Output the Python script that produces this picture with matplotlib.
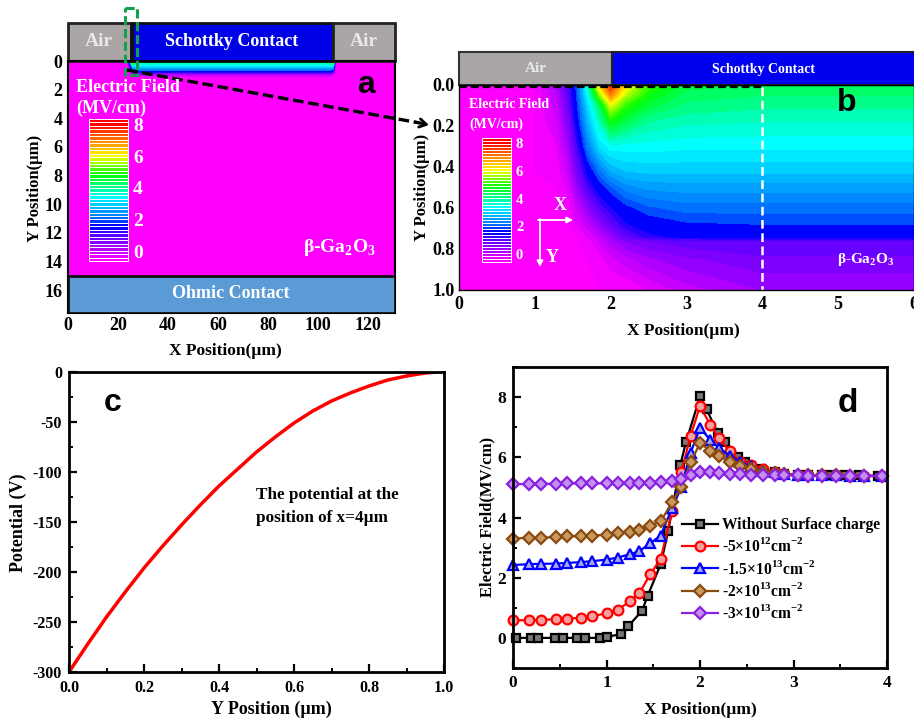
import numpy as np
import matplotlib
matplotlib.use("Agg")
import matplotlib.pyplot as plt
from matplotlib.colors import LinearSegmentedColormap
from matplotlib.patches import Rectangle
from matplotlib.ticker import MultipleLocator
from matplotlib.transforms import Affine2D

# panel b, field table
field_x = [0, 1.0, 1.3, 1.45, 1.55, 1.7, 1.85, 2.0, 2.2, 2.5, 3.0, 4.0, 6.0]
field_y = [0, 0.05, 0.1, 0.18, 0.3, 0.42, 0.5, 0.6, 0.68, 0.74, 0.76, 0.85, 1.0]
field_e = [
    [0, 0, 0.7, 1.5, 2.3, 4.0, 6.5, 7.8, 6.3, 5.3, 4.7, 4.6, 4.6],
    [0, 0, 0.6, 1.4, 2.2, 3.7, 5.5, 7.0, 5.8, 5.0, 4.5, 4.4, 4.4],
    [0, 0, 0.5, 1.3, 2.1, 3.4, 4.5, 6.0, 5.2, 4.7, 4.35, 4.25, 4.25],
    [0, 0, 0.4, 1.1, 1.9, 3.1, 4.0, 5.0, 4.6, 4.2, 4.05, 4.0, 4.0],
    [0, 0, 0.2, 0.8, 1.5, 2.6, 3.4, 3.7, 3.7, 3.7, 3.65, 3.65, 3.65],
    [0, 0, 0.1, 0.5, 1.1, 1.9, 2.5, 3.0, 3.2, 3.25, 3.25, 3.25, 3.25],
    [0, 0, 0, 0.3, 0.8, 1.5, 2.0, 2.35, 2.7, 2.85, 2.9, 2.9, 2.9],
    [0, 0, 0, 0.1, 0.4, 0.9, 1.4, 1.75, 2.1, 2.35, 2.5, 2.5, 2.5],
    [0, 0, 0, 0, 0.2, 0.5, 0.9, 1.3, 1.75, 2.0, 2.15, 2.2, 2.2],
    [0, 0, 0, 0, 0, 0.2, 0.5, 0.8, 1.3, 1.7, 1.9, 1.95, 1.95],
    [0, 0, 0, 0, 0, 0.1, 0.4, 0.7, 1.0, 1.2, 1.35, 1.4, 1.4],
    [0, 0, 0, 0, 0, 0, 0.1, 0.3, 0.5, 0.75, 0.95, 1.15, 1.15],
    [0, 0, 0, 0, 0, 0, 0, 0, 0, 0.2, 0.5, 0.8, 0.8],
]

# panel a, the thin band under the contact
wide_x = [0, 24, 25, 26, 27, 105, 106, 107, 130.8]
wide_y = [0, 0.2, 0.4, 0.6, 0.75, 0.85, 1.1, 17.6]
wide_e = [
    [0, 0, 3, 7, 4.6, 4.4, 7, 0, 0],
    [0, 0, 2.5, 4.5, 4, 4, 4.5, 0, 0],
    [0, 0, 1.5, 3.2, 3.3, 3.3, 3.2, 0, 0],
    [0, 0, 0.8, 2, 2.6, 2.6, 2, 0, 0],
    [0, 0, 0.3, 1.5, 1.9, 1.9, 1.5, 0, 0],
    [0, 0, 0, 0.6, 1.0, 1.0, 0.6, 0, 0],
    [0, 0, 0, 0, 0, 0, 0, 0, 0],
    [0, 0, 0, 0, 0, 0, 0, 0, 0],
]

# panel c
pot_y = [0, 0.05, 0.1, 0.15, 0.2, 0.25, 0.3, 0.35, 0.4, 0.45, 0.5, 0.55, 0.6,
         0.65, 0.7, 0.75, 0.8, 0.85, 0.9, 0.95, 0.98]
pot_v = [-300, -272, -245, -220, -196, -174, -153, -133, -114, -97, -80, -65,
         -51, -39, -29, -21, -14, -8, -4, -1, 0]

# panel d
x_black = [0.03, 0.19, 0.27, 0.45, 0.53, 0.68, 0.77, 0.93, 1.0, 1.16, 1.23, 1.38,
           1.44, 1.58, 1.66, 1.79, 1.85, 2.0, 2.07, 2.19, 2.27, 2.41, 2.48, 2.55,
           2.65, 2.8, 2.9, 3.05, 3.15, 3.3, 3.4, 3.55, 3.7, 3.9]
e_black = [0, 0, 0, 0, 0, 0, 0, 0, 0.03, 0.13, 0.38, 0.9, 1.4, 2.45, 3.55, 5.75,
           6.5, 8.02, 7.6, 6.8, 6.5, 6.0, 5.85, 5.7, 5.6, 5.5, 5.45, 5.42, 5.4,
           5.4, 5.4, 5.4, 5.4, 5.38]
x_common = [0, 0.17, 0.3, 0.46, 0.58, 0.73, 0.85, 1.0, 1.12, 1.25, 1.35, 1.47, 1.58,
            1.7, 1.8, 1.9, 2.0, 2.11, 2.2, 2.32, 2.43, 2.55, 2.67, 2.8, 2.9,
            3.05, 3.15, 3.3, 3.45, 3.6, 3.75, 3.95]
e_red = [0.58, 0.59, 0.6, 0.62, 0.64, 0.67, 0.72, 0.82, 0.92, 1.23, 1.48, 2.12, 2.63,
         4.2, 5.5, 6.72, 7.7, 7.08, 6.63, 6.2, 5.85, 5.75, 5.6, 5.52, 5.45,
         5.42, 5.4, 5.4, 5.4, 5.38, 5.38, 5.38]
e_blue = [2.42, 2.45, 2.46, 2.47, 2.49, 2.52, 2.55, 2.6, 2.67, 2.78, 2.88, 3.15, 3.4,
          4.3, 5.0, 6.15, 6.97, 6.58, 6.32, 6.05, 5.85, 5.7, 5.55, 5.5, 5.45,
          5.42, 5.4, 5.4, 5.4, 5.38, 5.38, 5.38]
e_brown = [3.3, 3.33, 3.33, 3.35, 3.37, 3.38, 3.4, 3.43, 3.47, 3.52, 3.58, 3.73, 3.87,
           4.5, 5.0, 5.83, 6.47, 6.22, 6.05, 5.85, 5.72, 5.6, 5.5, 5.47, 5.43,
           5.42, 5.4, 5.4, 5.4, 5.38, 5.38, 5.38]
e_purple = [5.1, 5.12, 5.12, 5.12, 5.13, 5.13, 5.13, 5.13, 5.14, 5.14, 5.14, 5.15, 5.17,
            5.2, 5.27, 5.42, 5.52, 5.5, 5.48, 5.45, 5.43, 5.42, 5.4, 5.4, 5.4,
            5.4, 5.38, 5.38, 5.38, 5.38, 5.38, 5.38]
labels_d = ["Without Surface charge",
            r"-5×10$^{\mathbf{12}}$cm$^{\mathbf{-2}}$",
            r"-1.5×10$^{\mathbf{13}}$cm$^{\mathbf{-2}}$",
            r"-2×10$^{\mathbf{13}}$cm$^{\mathbf{-2}}$",
            r"-3×10$^{\mathbf{13}}$cm$^{\mathbf{-2}}$"]

plt.rcParams["font.family"] = ["Liberation Serif", "DejaVu Serif"]
plt.rcParams["font.weight"] = "bold"
plt.rcParams["axes.labelweight"] = "bold"
plt.rcParams["mathtext.fontset"] = "custom"
plt.rcParams["mathtext.bf"] = "Liberation Serif:bold"
plt.rcParams["mathtext.rm"] = "Liberation Serif:bold"

W, H = 914, 722
fig = plt.figure(figsize=(W / 100, H / 100), dpi=100)
px = Affine2D().scale(1 / W, -1 / H).translate(0, 1) + fig.transFigure


def add_axes(left, top, right, bottom):
    return fig.add_axes([left / W, 1 - bottom / H, (right - left) / W, (bottom - top) / H])


field_cmap = LinearSegmentedColormap.from_list("field", [
    (0, (1, 0, 1)), (1.6 / 8, (60 / 255, 0, 1)), (1.8 / 8, (0, 0, 1)), (2.1 / 8, (0, 0, 1)),
    (2.25 / 8, (0, 90 / 255, 1)), (3.6 / 8, (0, 1, 1)),
    (4.9 / 8, (0, 1, 0)), (6.0 / 8, (1, 1, 0)), (7.8 / 8, (1, 0, 0)), (1, (1, 0, 0))])
levels = np.arange(0, 8.21, 0.2)


def colorbar(left, top, right, bottom, lab_x, lab_size):
    cax = add_axes(left, top, right, bottom)
    cax.set_xlim(0, 1)
    cax.set_ylim(0, 41)
    cax.axis("off")
    stripes = np.arange(41)
    cax.barh(stripes + 0.5, 1, height=1, color=field_cmap(stripes / 40),
             edgecolor="white", linewidth=0.7, clip_on=False)
    inset = (bottom - top) * 0.05
    for v in [0, 2, 4, 6, 8]:
        yy = bottom - inset - v * (bottom - top - 2 * inset) / 8
        fig.text(lab_x, yy, str(v), transform=px, color="white",
                 fontsize=lab_size, ha="left", va="center")


# ---- a
ax = add_axes(68, 61, 395, 313)
ax.contourf(wide_x, wide_y, wide_e, levels=levels, cmap=field_cmap, extend="both")
ax.set_xlim(0, 130.8)
ax.set_ylim(17.6, 0)
ax.add_patch(Rectangle((0, 15), 130.8, 2.6, fc="#5b9bd5", ec="#111111", lw=2, zorder=3))
ax.add_patch(Rectangle((0, -2.66), 25, 2.66, fc="#aaa6a6", ec="#222222", lw=2, clip_on=False))
ax.add_patch(Rectangle((25, -2.66), 81, 2.66, fc="#0000e6", ec="#111111", lw=2, clip_on=False))
ax.add_patch(Rectangle((25, -2.66), 1.5, 2.66, fc="#111111", ec="none", clip_on=False))
ax.add_patch(Rectangle((106, -2.66), 24.8, 2.66, fc="#aaa6a6", ec="#222222", lw=2, clip_on=False))
ax.set_xticks(range(0, 121, 20))
ax.set_yticks(range(0, 17, 2))
ax.tick_params(axis="x", length=0, labelsize=13, pad=3)
ax.tick_params(axis="y", length=0, labelsize=13, pad=4)
for s in ax.spines.values():
    s.set_linewidth(1.5)
ax.set_xlabel("X Position(µm)", fontsize=12.5, va="center")
ax.xaxis.set_label_coords(225, 351, transform=px)
ax.set_ylabel("Y Position(µm)", fontsize=12, va="center")
ax.yaxis.set_label_coords(35, 188, transform=px)
for x0, t in [(99, "Air"), (364, "Air")]:
    fig.text(x0, 42, t, transform=px, color="#e8e8e8", fontsize=14, ha="center", va="center")
fig.text(232, 42, "Schottky Contact", transform=px, color="white", fontsize=13, ha="center", va="center")
fig.text(231, 294, "Ohmic Contact", transform=px, color="white", fontsize=13, ha="center", va="center")
fig.text(128, 87, "Electric Field", transform=px, color="white", fontsize=13, ha="center", va="center")
fig.text(111, 108, "(MV/cm)", transform=px, color="white", fontsize=13, ha="center", va="center")
fig.text(339, 247, r"β-Ga$_{\mathbf{2}}$O$_{\mathbf{3}}$", transform=px, color="white",
         fontsize=14, ha="center", va="center")
fig.text(366, 85, "a", transform=px, family="Liberation Sans", fontsize=23, ha="center", va="center")
colorbar(89, 119, 128, 261, 133, 14)

# ---- b
ax = add_axes(459, 85, 914, 290)
ax.contourf(field_x, field_y, field_e, levels=levels, cmap=field_cmap, extend="both")
ax.set_xlim(0, 6)
ax.set_ylim(1, 0)
ax.add_patch(Rectangle((0, -0.16), 2.02, 0.16, fc="#aaa6a6", ec="#333333", lw=1.5, clip_on=False))
ax.add_patch(Rectangle((2.02, -0.16), 4.1, 0.16, fc="#0000f0", ec="#222222", lw=1.5, clip_on=False))
ax.plot([0, 4], [0.012, 0.012], color="black", lw=1.6, ls=(0, (3.5, 1.8)))
ax.plot([4, 4], [0.012, 1], color="white", lw=1.8, ls=(0, (3.5, 1.8)))
ax.set_xticks(range(0, 7))
ax.set_yticks([0, 0.2, 0.4, 0.6, 0.8, 1.0])
ax.set_yticklabels(["0.0", "0.2", "0.4", "0.6", "0.8", "1.0"])
ax.tick_params(axis="x", length=0, labelsize=13, pad=4)
ax.tick_params(axis="y", length=0, labelsize=13, pad=3)
for s in ax.spines.values():
    s.set_linewidth(1)
ax.set_xlabel("X Position(µm)", fontsize=12.5, va="center")
ax.xaxis.set_label_coords(683, 331, transform=px)
ax.set_ylabel("Y Position(µm)", fontsize=12, va="center")
ax.yaxis.set_label_coords(422, 187, transform=px)
fig.text(536, 69, "Air", transform=px, color="#e8e8e8", fontsize=11, ha="center", va="center")
fig.text(763, 69, "Schottky Contact", transform=px, color="white", fontsize=10, ha="center", va="center")
fig.text(509, 105, "Electric Field", transform=px, color="white", fontsize=10, ha="center", va="center")
fig.text(496, 124, "(MV/cm)", transform=px, color="white", fontsize=10, ha="center", va="center")
fig.text(866, 259, r"β-Ga$_{\mathbf{2}}$O$_{\mathbf{3}}$", transform=px, color="white",
         fontsize=11, ha="center", va="center")
fig.text(847, 103, "b", transform=px, family="Liberation Sans", fontsize=23, ha="center", va="center")
colorbar(482, 138, 511, 262, 516, 10.5)
fig.text(560, 205, "X", transform=px, color="white", fontsize=13, ha="center", va="center")
fig.text(552, 257, "Y", transform=px, color="white", fontsize=13, ha="center", va="center")
for a, b in [((538, 220), (573, 220)), ((540, 219), (540, 267))]:
    fig.add_artist(plt.Annotation("", xy=b, xytext=a, xycoords=px, textcoords=px,
                                  arrowprops=dict(arrowstyle="-|>,head_length=0.35,head_width=0.18",
                                                  color="white", lw=1.3, shrinkA=0, shrinkB=0)))

# ---- c
ax = add_axes(69, 372, 444, 672)
ax.plot(pot_y, pot_v, color="#ff0000", lw=2.5)
ax.set_xlim(0, 1)
ax.set_ylim(-300, 0)
ax.xaxis.set_major_locator(MultipleLocator(0.2))
ax.xaxis.set_minor_locator(MultipleLocator(0.1))
ax.yaxis.set_major_locator(MultipleLocator(50))
ax.yaxis.set_minor_locator(MultipleLocator(25))
ax.set_xticks([0, 0.2, 0.4, 0.6, 0.8, 1.0])
ax.set_xticklabels(["0.0", "0.2", "0.4", "0.6", "0.8", "1.0"])
ax.set_yticks(range(-300, 1, 50))
ax.set_yticklabels(["-300", "-250", "-200", "-150", "-100", "-50", "0"])
ax.tick_params(which="major", direction="in", length=6, width=1.6, labelsize=11.5)
ax.tick_params(axis="x", which="major", pad=6)
ax.tick_params(axis="y", which="major", pad=5)
ax.tick_params(which="minor", direction="in", length=3, width=1.4)
for s in ax.spines.values():
    s.set_linewidth(2)
ax.set_xlabel("Y Position (µm)", fontsize=13, va="center")
ax.xaxis.set_label_coords(271, 709, transform=px)
ax.set_ylabel("Potential (V)", fontsize=13, va="center")
ax.yaxis.set_label_coords(18, 523, transform=px)
fig.text(256, 495, "The potential at the", transform=px, fontsize=12.3, ha="left", va="center")
fig.text(256, 518, "position of x=4µm", transform=px, fontsize=12.3, ha="left", va="center")
fig.text(113, 403, "c", transform=px, family="Liberation Sans", fontsize=23, ha="center", va="center")

# ---- d
ax = add_axes(513, 367, 887, 668)
series_d = [(x_black, e_black, "black", "#777777", "s", 5.5),
            (x_common, e_red, "#ff0000", "#f4a0a0", "o", 7),
            (x_common, e_blue, "#0000ff", "#a8a8f0", "^", 7),
            (x_common, e_brown, "#8a4a10", "#c89a60", "D", 6.3),
            (x_common, e_purple, "#8a20e0", "#c490f0", "D", 6.3)]
for (xs, es, col, fill, mk, ms), lab in zip(series_d, labels_d):
    ax.plot(xs, es, color=col, lw=1.6, marker=mk, ms=ms, mfc=fill, mec=col, mew=1.6,
            label=lab, clip_on=False)
ax.set_xlim(0, 4)
ax.set_ylim(-1, 9)
ax.xaxis.set_major_locator(MultipleLocator(1))
ax.xaxis.set_minor_locator(MultipleLocator(0.5))
ax.yaxis.set_major_locator(MultipleLocator(2))
ax.yaxis.set_minor_locator(MultipleLocator(1))
ax.set_yticks([0, 2, 4, 6, 8])
ax.tick_params(which="major", direction="in", length=6, width=1.6, labelsize=12.5, pad=5)
ax.tick_params(which="minor", direction="in", length=3, width=1.4)
for s in ax.spines.values():
    s.set_linewidth(2)
ax.set_xlabel("X Position(µm)", fontsize=12.5, va="center")
ax.xaxis.set_label_coords(700, 710, transform=px)
ax.set_ylabel("Electric Field(MV/cm)", fontsize=12, va="center")
ax.yaxis.set_label_coords(487, 517, transform=px)
ax.legend(loc="upper left", bbox_to_anchor=(682, 517), bbox_transform=px, frameon=False,
          fontsize=11.2, handlelength=2.3, handletextpad=0.3, labelspacing=0.28,
          borderpad=0, borderaxespad=0)
fig.text(848, 404, "d", transform=px, family="Liberation Sans", fontsize=24, ha="center", va="center")

# zoom box and arrow joining a to b
fig.add_artist(Rectangle((125, 8), 12, 67, transform=px, fill=False, ec="#12a04c", lw=2.2,
                         ls=(0, (3, 1.2))))
fig.add_artist(plt.Line2D([127, 420], [70, 123], transform=px, color="black", lw=2.4,
                          ls=(0, (3.2, 1.4))))
fig.add_artist(plt.Annotation("", xy=(429, 125), xytext=(415, 122), xycoords=px, textcoords=px,
                              arrowprops=dict(arrowstyle="->,head_length=0.5,head_width=0.3",
                                              color="black", lw=2, shrinkA=0, shrinkB=0)))

fig.savefig("out.png", dpi=100)
